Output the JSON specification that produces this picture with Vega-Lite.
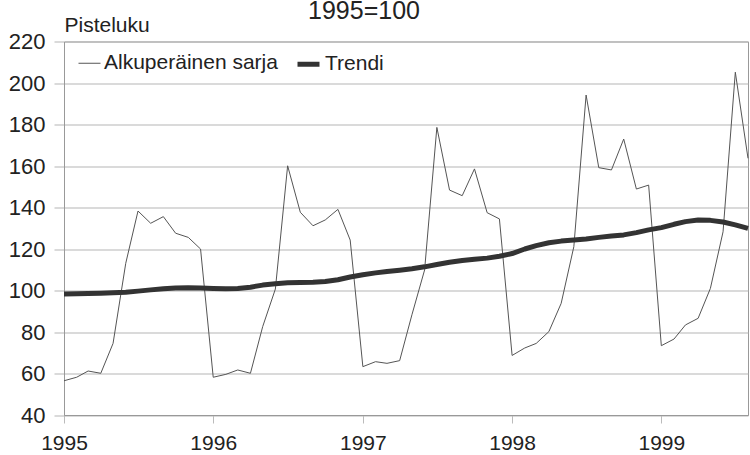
{
  "$schema": "https://vega.github.io/schema/vega-lite/v6.json",
  "width": 684,
  "height": 373.5,
  "autosize": "none",
  "padding": {"left": 64, "top": 41.5, "right": 2, "bottom": 40},
  "background": "white",
  "title": {
    "text": "1995=100",
    "anchor": "middle",
    "frame": "group",
    "dx": -42,
    "dy": 30,
    "offset": 0,
    "baseline": "alphabetic",
    "font": "Liberation Sans, Arial, sans-serif",
    "fontSize": 25,
    "fontWeight": "normal",
    "color": "#222222"
  },
  "data": {
    "values": [
      {"d": "1995-01-01", "Alkuperäinen sarja": 56.5, "Trendi": 98.3},
      {"d": "1995-02-01", "Alkuperäinen sarja": 58.2, "Trendi": 98.4},
      {"d": "1995-03-01", "Alkuperäinen sarja": 61.2, "Trendi": 98.6},
      {"d": "1995-04-01", "Alkuperäinen sarja": 60.1, "Trendi": 98.7},
      {"d": "1995-05-01", "Alkuperäinen sarja": 74.5, "Trendi": 98.9},
      {"d": "1995-06-01", "Alkuperäinen sarja": 113.1, "Trendi": 99.2},
      {"d": "1995-07-01", "Alkuperäinen sarja": 138.3, "Trendi": 99.7},
      {"d": "1995-08-01", "Alkuperäinen sarja": 132.4, "Trendi": 100.3},
      {"d": "1995-09-01", "Alkuperäinen sarja": 135.6, "Trendi": 100.8},
      {"d": "1995-10-01", "Alkuperäinen sarja": 127.6, "Trendi": 101.2},
      {"d": "1995-11-01", "Alkuperäinen sarja": 125.6, "Trendi": 101.3},
      {"d": "1995-12-01", "Alkuperäinen sarja": 120.0, "Trendi": 101.2},
      {"d": "1996-01-01", "Alkuperäinen sarja": 58.2, "Trendi": 101.0},
      {"d": "1996-02-01", "Alkuperäinen sarja": 59.6, "Trendi": 100.9},
      {"d": "1996-03-01", "Alkuperäinen sarja": 61.7, "Trendi": 101.0},
      {"d": "1996-04-01", "Alkuperäinen sarja": 60.1, "Trendi": 101.6},
      {"d": "1996-05-01", "Alkuperäinen sarja": 82.6, "Trendi": 102.6},
      {"d": "1996-06-01", "Alkuperäinen sarja": 100.7, "Trendi": 103.3},
      {"d": "1996-07-01", "Alkuperäinen sarja": 160.1, "Trendi": 103.7},
      {"d": "1996-08-01", "Alkuperäinen sarja": 137.7, "Trendi": 103.9},
      {"d": "1996-09-01", "Alkuperäinen sarja": 131.2, "Trendi": 104.0},
      {"d": "1996-10-01", "Alkuperäinen sarja": 134.0, "Trendi": 104.3},
      {"d": "1996-11-01", "Alkuperäinen sarja": 139.1, "Trendi": 105.2},
      {"d": "1996-12-01", "Alkuperäinen sarja": 124.3, "Trendi": 106.5},
      {"d": "1997-01-01", "Alkuperäinen sarja": 63.3, "Trendi": 107.6},
      {"d": "1997-02-01", "Alkuperäinen sarja": 65.7, "Trendi": 108.5},
      {"d": "1997-03-01", "Alkuperäinen sarja": 64.9, "Trendi": 109.2},
      {"d": "1997-04-01", "Alkuperäinen sarja": 66.2, "Trendi": 109.8},
      {"d": "1997-05-01", "Alkuperäinen sarja": 88.3, "Trendi": 110.5},
      {"d": "1997-06-01", "Alkuperäinen sarja": 109.9, "Trendi": 111.4},
      {"d": "1997-07-01", "Alkuperäinen sarja": 178.6, "Trendi": 112.5},
      {"d": "1997-08-01", "Alkuperäinen sarja": 148.4, "Trendi": 113.6},
      {"d": "1997-09-01", "Alkuperäinen sarja": 145.7, "Trendi": 114.5},
      {"d": "1997-10-01", "Alkuperäinen sarja": 158.6, "Trendi": 115.1},
      {"d": "1997-11-01", "Alkuperäinen sarja": 137.5, "Trendi": 115.6},
      {"d": "1997-12-01", "Alkuperäinen sarja": 134.5, "Trendi": 116.5},
      {"d": "1998-01-01", "Alkuperäinen sarja": 68.7, "Trendi": 117.8},
      {"d": "1998-02-01", "Alkuperäinen sarja": 72.3, "Trendi": 120.0},
      {"d": "1998-03-01", "Alkuperäinen sarja": 74.5, "Trendi": 121.6},
      {"d": "1998-04-01", "Alkuperäinen sarja": 80.2, "Trendi": 123.0},
      {"d": "1998-05-01", "Alkuperäinen sarja": 93.8, "Trendi": 123.8},
      {"d": "1998-06-01", "Alkuperäinen sarja": 121.1, "Trendi": 124.3},
      {"d": "1998-07-01", "Alkuperäinen sarja": 194.2, "Trendi": 124.8},
      {"d": "1998-08-01", "Alkuperäinen sarja": 159.2, "Trendi": 125.6},
      {"d": "1998-09-01", "Alkuperäinen sarja": 158.1, "Trendi": 126.3},
      {"d": "1998-10-01", "Alkuperäinen sarja": 173.0, "Trendi": 126.8},
      {"d": "1998-11-01", "Alkuperäinen sarja": 148.9, "Trendi": 127.9},
      {"d": "1998-12-01", "Alkuperäinen sarja": 150.8, "Trendi": 129.2},
      {"d": "1999-01-01", "Alkuperäinen sarja": 73.4, "Trendi": 130.3},
      {"d": "1999-02-01", "Alkuperäinen sarja": 76.6, "Trendi": 131.9},
      {"d": "1999-03-01", "Alkuperäinen sarja": 83.4, "Trendi": 133.2},
      {"d": "1999-04-01", "Alkuperäinen sarja": 86.6, "Trendi": 134.0},
      {"d": "1999-05-01", "Alkuperäinen sarja": 101.0, "Trendi": 133.8},
      {"d": "1999-06-01", "Alkuperäinen sarja": 128.3, "Trendi": 133.0},
      {"d": "1999-07-01", "Alkuperäinen sarja": 205.2, "Trendi": 131.6},
      {"d": "1999-08-01", "Alkuperäinen sarja": 163.7, "Trendi": 129.9}
    ]
  },
  "transform": [
    {"fold": ["Alkuperäinen sarja", "Trendi"], "as": ["sarja", "arvo"]}
  ],
  "mark": {"type": "line", "strokeJoin": "round", "strokeCap": "butt"},
  "encoding": {
    "x": {
      "field": "d",
      "type": "temporal",
      "scale": {"type": "utc", "domain": ["1995-01-01", "1999-08-01"]},
      "axis": {
        "title": null,
        "format": "%Y",
        "tickCount": {"interval": "year", "step": 1},
        "grid": false,
        "tickSize": 8,
        "tickColor": "#bbbbbb",
        "domainColor": "#999999",
        "labelPadding": 9,
        "labelFontSize": 21,
        "labelFont": "Liberation Sans, Arial, sans-serif",
        "labelColor": "#222222",
        "labelAlign": "center",
        "labelOverlap": false
      }
    },
    "y": {
      "field": "arvo",
      "type": "quantitative",
      "scale": {"domain": [40, 220], "nice": false, "zero": false},
      "axis": {
        "title": "Pisteluku",
        "titleAngle": 0,
        "titleX": 0,
        "titleY": -10.5,
        "titleAlign": "left",
        "titleBaseline": "alphabetic",
        "titleFont": "Liberation Sans, Arial, sans-serif",
        "titleFontSize": 21,
        "titleFontWeight": "normal",
        "titleColor": "#222222",
        "values": [40, 60, 80, 100, 120, 140, 160, 180, 200, 220],
        "grid": true,
        "gridColor": "#b5b5b5",
        "tickSize": 10,
        "tickColor": "#b5b5b5",
        "domainColor": "#999999",
        "labelPadding": 9,
        "labelFontSize": 22,
        "labelFont": "Liberation Sans, Arial, sans-serif",
        "labelColor": "#222222"
      }
    },
    "color": {
      "field": "sarja",
      "type": "nominal",
      "scale": {"domain": ["Alkuperäinen sarja", "Trendi"], "range": ["#555555", "#333333"]},
      "legend": {"title": null}
    },
    "strokeWidth": {
      "field": "sarja",
      "type": "nominal",
      "scale": {"domain": ["Alkuperäinen sarja", "Trendi"], "range": [1, 5]},
      "legend": {"title": null}
    }
  },
  "config": {
    "view": {"stroke": "#999999"},
    "legend": {
      "orient": "none",
      "legendX": 14,
      "legendY": 9,
      "direction": "horizontal",
      "symbolType": "stroke",
      "symbolSize": 484,
      "labelFont": "Liberation Sans, Arial, sans-serif",
      "labelFontSize": 21,
      "labelLimit": 0,
      "labelColor": "#222222",
      "labelOffset": 3,
      "columnPadding": 9,
      "padding": 0
    }
  }
}
